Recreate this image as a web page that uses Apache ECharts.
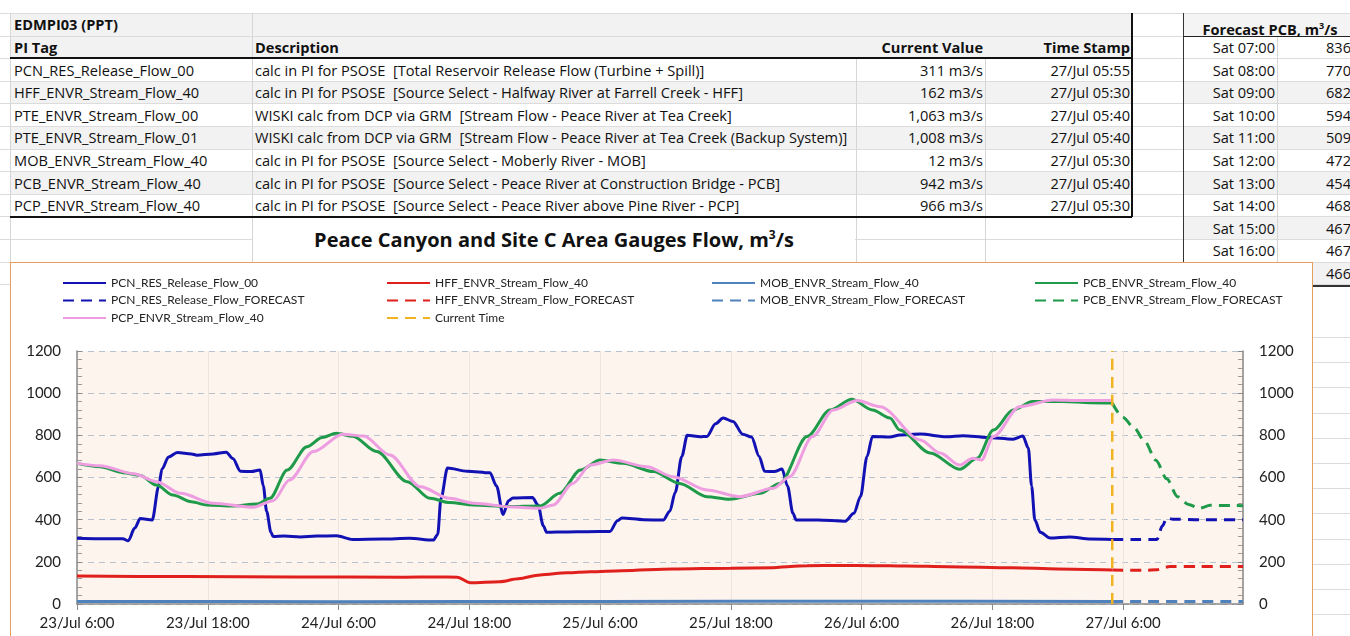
<!DOCTYPE html>
<html>
<head>
<meta charset="utf-8">
<script src="https://cdn.jsdelivr.net/npm/echarts@6/dist/echarts.min.js"></script>
<style>
html, body { margin: 0; padding: 0; background: #fff; overflow: hidden; }
body { width: 1350px; height: 636px; position: relative; font-family: "Open Sans", Lato, sans-serif; font-size: 14.6px; color: #111; }
.cell { position: absolute; height: 22px; line-height: 22px; white-space: pre; }
#chartBox { position: absolute; left: 10px; top: 262px; width: 1301px; height: 400px; border: 1.5px solid #e69d5e; background: #fff; }
#chart { position: absolute; left: 0; top: 0; width: 1350px; height: 636px; z-index: 2; }
#title { position: absolute; left: 254px; width: 600px; top: 226px; text-align: center; font-size: 20px; font-weight: bold; }
</style>
</head>
<body>
<div id="sheet"></div>
<div id="chartBox"></div>
<div id="chart"></div>
<script>
// spreadsheet part
const tableTags = ["PCN_RES_Release_Flow_00", "HFF_ENVR_Stream_Flow_40", "PTE_ENVR_Stream_Flow_00", "PTE_ENVR_Stream_Flow_01", "MOB_ENVR_Stream_Flow_40", "PCB_ENVR_Stream_Flow_40", "PCP_ENVR_Stream_Flow_40"]
const tableDescriptions = [
  "calc in PI for PSOSE  [Total Reservoir Release Flow (Turbine + Spill)]",
  "calc in PI for PSOSE  [Source Select - Halfway River at Farrell Creek - HFF]",
  "WISKI calc from DCP via GRM  [Stream Flow - Peace River at Tea Creek]",
  "WISKI calc from DCP via GRM  [Stream Flow - Peace River at Tea Creek (Backup System)]",
  "calc in PI for PSOSE  [Source Select - Moberly River - MOB]",
  "calc in PI for PSOSE  [Source Select - Peace River at Construction Bridge - PCB]",
  "calc in PI for PSOSE  [Source Select - Peace River above Pine River - PCP]"
]
const currentValues = ["311 m3/s", "162 m3/s", "1,063 m3/s", "1,008 m3/s", "12 m3/s", "942 m3/s", "966 m3/s"]
const timeStamps = ["27/Jul 05:55", "27/Jul 05:30", "27/Jul 05:40", "27/Jul 05:40", "27/Jul 05:30", "27/Jul 05:40", "27/Jul 05:30"]
const forecastTimes = ["Sat 07:00", "Sat 08:00", "Sat 09:00", "Sat 10:00", "Sat 11:00", "Sat 12:00", "Sat 13:00", "Sat 14:00", "Sat 15:00", "Sat 16:00", "Sat 17:00"]
const forecastPcb = [836, 770, 682, 594, 509, 472, 454, 468, 467, 467, 466]
const forecastHours = [97, 98, 99, 100, 101, 102, 103, 104, 105, 106, 107]

// chart part: [hours after 23/Jul 6:00, m3/s]
const pcnRelease = [[0,312],[2,310],[4.2,310],[4.7,300],[5.3,360],[5.8,405],[6.9,398],[7.5,560],[7.8,640],[8.4,697],[9.2,718],[10.5,712],[11,706],[12.5,712],[13.7,720],[14.3,690],[15,630],[16,628],[16.8,636],[17.1,560],[17.4,440],[17.8,340],[18,320],[19,322],[20.5,318],[22,322],[23.8,324],[25.3,306],[28,308],[30.5,312],[32.7,303],[33.1,330],[33.4,500],[34,645],[35.8,630],[37.9,622],[38.5,560],[39.1,425],[39.6,490],[40,503],[41.8,505],[42.3,470],[42.8,370],[43.1,340],[45,342],[46.8,343],[48.9,344],[49.6,395],[50,408],[52,400],[53.8,398],[54.4,440],[54.9,530],[55.5,700],[56,800],[57.2,793],[57.8,795],[58.6,855],[59.3,882],[60.2,866],[61.1,805],[61.9,792],[62.6,700],[63.1,630],[64,628],[64.7,640],[65.2,560],[65.7,430],[66,398],[68,398],[70.5,393],[71.3,430],[71.9,510],[72.5,700],[73,795],[74.6,792],[75.5,802],[77.4,806],[79.8,793],[81.3,798],[83.5,790],[85.9,782],[86.8,797],[87.3,740],[87.6,560],[87.9,398],[88.4,340],[89.3,313],[91.1,318],[93,308],[95,306]]
const pcnForecast = [[95,306],[97,306],[99.1,306],[99.6,370],[100,408],[100.6,402],[103,400],[107,400]]
const hffFlow = [[0,133],[10,130],[20,128],[30,127],[33,128],[34.9,127],[36.1,101],[38.8,106],[40.5,120],[42.5,138],[45,148],[47.1,153],[50,158],[54.7,166],[60,170],[63.9,172],[65.5,178],[67,182],[70,183],[73,182],[76,180],[80,177],[85.9,172],[90,166],[95,161]]
const hffForecast = [[95,161],[98,160],[99.1,163],[100.3,178],[103,178],[107,178]]
const mobFlow = [[0,12],[24,11],[48,12],[72,13],[95,12]]
const mobForecast = [[95,12],[107,12]]
const pcbFlow = [[0,667],[2.1,651],[4.2,623],[5.8,610],[7.3,564],[8.8,517],[10.5,485],[11.9,470],[14.3,465],[16.5,474],[17.7,501],[19.3,636],[21.1,746],[22.5,790],[23.8,810],[25.3,796],[27.5,723],[30.3,580],[32.4,501],[34.2,481],[36.4,470],[39.5,462],[42.5,465],[44.3,525],[46.2,636],[48,683],[50.1,667],[52.9,628],[55.3,572],[57.8,509],[59.9,497],[62.7,525],[64.5,572],[67,794],[69.1,920],[71.1,971],[73,920],[74.6,882],[75.5,825],[78.3,716],[81,639],[82.6,691],[84.1,825],[85.9,920],[87.7,960],[90.5,960],[93,955],[95,953]]
const pcbForecastStart = [[95,953],[96,885]]
const pcpFlow = [[0,667],[2.1,656],[5.2,618],[7.3,580],[9.5,525],[12.5,478],[16.2,459],[18,490],[19.5,588],[21.7,723],[24.4,805],[26.3,797],[28.7,707],[31.5,556],[34.2,501],[36.4,478],[40,460],[42.5,454],[43.7,470],[45.5,572],[47.1,659],[49.2,683],[52.3,651],[54.7,604],[57.8,541],[60.8,509],[63.9,549],[65.4,604],[67.5,794],[69.4,920],[71.6,965],[73.7,936],[77.4,778],[79.2,716],[81,659],[82.2,691],[83,683],[84.1,794],[86.5,936],[89.6,968],[92,965],[95,965]]
const currentTime = 95
const yTicks = [0, 200, 400, 600, 800, 1000, 1200]

// build the sheet
var sheet = document.getElementById("sheet")
function box(x, y, w, h, bg) {
  var d = document.createElement("div")
  d.style.cssText = "position:absolute;left:" + x + "px;top:" + y + "px;width:" + w + "px;height:" + h + "px;background:" + bg
  sheet.appendChild(d)
}
function txt(x, y, s, opts) {
  opts = opts || {}
  var d = document.createElement("div")
  d.className = "cell"
  d.textContent = s
  if (opts.right) {
    d.style.right = (1350 - x) + "px"
    d.style.textAlign = "right"
  } else {
    d.style.left = x + "px"
  }
  d.style.top = (y - 11) + "px"
  if (opts.bold) d.style.fontWeight = "bold"
  sheet.appendChild(d)
}
var rowTop = function (i) { return 13 + 22.6 * i }
var rowMid = function (i) { return 24.3 + 22.6 * i }

// shading
box(10, 13, 1122, 45, "#f2f2f2")
box(1184, 13, 166, 23, "#f4f4f4")
;[3, 5, 7].forEach(function (i) { box(10, rowTop(i), 1122, 22.6, "#f2f2f2") })
;[3, 5, 7, 9, 11].forEach(function (i) { box(1184, rowTop(i), 166, 22.6, "#f2f2f2") })
// light grid
for (var i = 0; i <= 12; i++) box(0, rowTop(i), 1350, 1, "#dcdcdc")
for (var k = 0; k < 12; k++) box(1313, 337 + 25.2 * k, 37, 1, "#dcdcdc")
;[10, 252, 1183].forEach(function (x) { box(x, 13, 1, 250, "#d6d6d6") })
;[856, 985].forEach(function (x) { box(x, 58, 1, 204, "#d6d6d6") })
box(1277, 36, 1, 250, "#d6d6d6")
// heavy borders
box(10, 57, 1122, 2, "#111")
box(10, 215.5, 1122, 2, "#111")
box(1130.5, 13, 2, 204, "#111")
box(1183, 35.5, 167, 1.5, "#222")
box(1182.5, 13, 1.5, 273, "#333")
box(1277, 285, 73, 1.5, "#333")
// title cell
box(253, 218, 602, 43, "#fff")

txt(14, rowMid(0), "EDMPI03 (PPT)", { bold: true })
txt(14, rowMid(1), "PI Tag", { bold: true })
txt(255, rowMid(1), "Description", { bold: true })
txt(983, rowMid(1), "Current Value", { bold: true, right: true })
txt(1130, rowMid(1), "Time Stamp", { bold: true, right: true })
tableTags.forEach(function (tag, i) {
  txt(14, rowMid(i + 2), tag)
  txt(255, rowMid(i + 2), tableDescriptions[i])
  txt(983, rowMid(i + 2), currentValues[i], { right: true })
  txt(1130, rowMid(i + 2), timeStamps[i], { right: true })
})
var fh = document.createElement("div")
fh.className = "cell"
fh.style.cssText = "left:1187px;width:166px;text-align:center;font-weight:bold;top:" + (rowMid(0) - 9) + "px"
fh.innerHTML = "Forecast PCB, m<sup style='font-size:9px'>3</sup>/s"
sheet.appendChild(fh)
forecastTimes.forEach(function (t, i) {
  txt(1275, rowMid(i + 1), t, { right: true })
  txt(1351, rowMid(i + 1), String(forecastPcb[i]), { right: true })
})
var title = document.createElement("div")
title.id = "title"
title.innerHTML = "Peace Canyon and Site C Area Gauges Flow, m<sup style='font-size:12px'>3</sup>/s"
sheet.appendChild(title)

// chart
var chartDom = document.getElementById("chart")
var myChart = echarts.init(chartDom)
var font = "Lato"
function hourLabel(v) {
  if (v % 12 !== 0) return ""
  var t = 6 + v
  return (23 + Math.floor(t / 24)) + "/Jul " + (t % 24) + ":00"
}
function lineSeries(name, data, color, dashed, width) {
  return {
    name: name,
    type: "line",
    data: data,
    symbol: "none",
    smooth: 0.3,
    smoothMonotone: "x",
    itemStyle: { color: color },
    lineStyle: { color: color, width: width || 3, type: dashed ? [11, 7] : "solid" },
    emphasis: { disabled: true }
  }
}
var pcbForecast = pcbForecastStart.concat(forecastHours.map(function (h, i) { return [h, forecastPcb[i]] }))
var legendText = { fontSize: 12, color: "#222", fontFamily: font }
var legendBase = {
  orient: "vertical", top: 272, itemGap: 5.5, itemWidth: 43, itemHeight: 14,
  textStyle: legendText, selectedMode: false, itemStyle: { opacity: 0 }
}
var yAxisBase = {
  type: "value", min: yTicks[0], max: yTicks[yTicks.length - 1], interval: 200,
  axisLine: { show: true, lineStyle: { color: "#8a8a8a", width: 1.5 } },
  axisTick: { show: true, inside: true, length: 5, lineStyle: { color: "#8a8a8a" } },
  minorTick: { show: true, splitNumber: 5, length: 5, lineStyle: { color: "#9a9a9a" } },
  axisLabel: { fontSize: 15, color: "#222", fontFamily: font, margin: 16, formatter: function (v) { return String(v) } }
}
var option = {
  animation: false,
  grid: { left: 77, right: 107, top: 351, bottom: 32, show: true, backgroundColor: "#fdf4ee", borderWidth: 0, outerBoundsMode: "none" },
  legend: [
    Object.assign({ left: 57, data: ["PCN_RES_Release_Flow_00", "PCN_RES_Release_Flow_FORECAST", "PCP_ENVR_Stream_Flow_40"] }, legendBase),
    Object.assign({ left: 381, data: ["HFF_ENVR_Stream_Flow_40", "HFF_ENVR_Stream_Flow_FORECAST", "Current Time"] }, legendBase),
    Object.assign({ left: 706, data: ["MOB_ENVR_Stream_Flow_40", "MOB_ENVR_Stream_Flow_FORECAST"] }, legendBase),
    Object.assign({ left: 1029, data: ["PCB_ENVR_Stream_Flow_40", "PCB_ENVR_Stream_Flow_FORECAST"] }, legendBase)
  ],
  xAxis: {
    type: "value",
    min: 0,
    max: 107,
    interval: 12,
    axisLine: { show: true, lineStyle: { color: "#8a8a8a", width: 1.5 } },
    axisTick: { show: true, length: 6, lineStyle: { color: "#8a8a8a" } },
    axisLabel: { formatter: hourLabel, fontSize: 15, color: "#222", fontFamily: font, margin: 12, showMaxLabel: false },
    splitLine: { show: true, lineStyle: { color: "#efe5dd" } }
  },
  yAxis: [
    Object.assign({ position: "left", splitLine: { show: true, lineStyle: { color: "#b7c2cd", type: [6, 5] } } }, yAxisBase),
    Object.assign({ position: "right", splitLine: { show: false } }, yAxisBase)
  ],
  series: [
    lineSeries("PCN_RES_Release_Flow_00", pcnRelease, "#1212b4"),
    lineSeries("PCN_RES_Release_Flow_FORECAST", pcnForecast, "#1212b4", true),
    lineSeries("HFF_ENVR_Stream_Flow_40", hffFlow, "#e0201c"),
    lineSeries("HFF_ENVR_Stream_Flow_FORECAST", hffForecast, "#e0201c", true),
    lineSeries("MOB_ENVR_Stream_Flow_40", mobFlow, "#4f81bd"),
    lineSeries("MOB_ENVR_Stream_Flow_FORECAST", mobForecast, "#4f81bd", true),
    lineSeries("PCB_ENVR_Stream_Flow_40", pcbFlow, "#1f9a4a"),
    lineSeries("PCB_ENVR_Stream_Flow_FORECAST", pcbForecast, "#1f9a4a", true),
    lineSeries("PCP_ENVR_Stream_Flow_40", pcpFlow, "#ee9ee0"),
    lineSeries("Current Time", [[currentTime, yTicks[0]], [currentTime, yTicks[yTicks.length - 1]]], "#f2b322", true, 2.5)
  ]
}
myChart.setOption(option)
</script>
</body>
</html>
